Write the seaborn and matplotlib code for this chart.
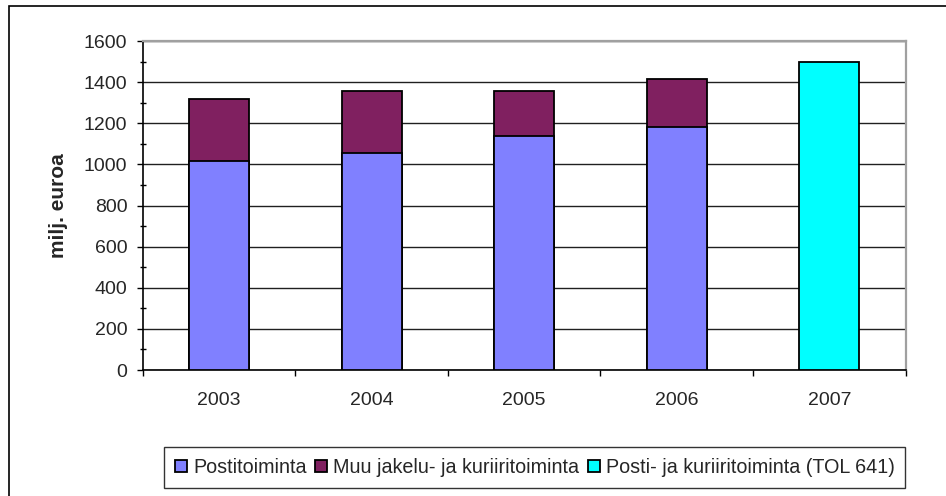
import seaborn as sns
import matplotlib.pyplot as plt
from matplotlib.patches import Patch, Rectangle
from matplotlib.ticker import MultipleLocator, FixedLocator

# Data (milj. euroa)
years = ['2003', '2004', '2005', '2006', '2007']
postitoiminta = [1018, 1053, 1136, 1182]
muu_jakelu = [301, 303, 220, 235]
tol_641 = [1500]

labels = ['Postitoiminta', 'Muu jakelu- ja kuriiritoiminta',
          'Posti- ja kuriiritoiminta (TOL 641)']
colors = ['#8080FF', '#802060', '#00FFFF']

totals = [p + m for p, m in zip(postitoiminta, muu_jakelu)]

sns.set_style('white')
plt.rcParams['font.family'] = ['Liberation Sans', 'DejaVu Sans']

fig = plt.figure(figsize=(9.46, 4.96), dpi=100)
ax = fig.add_axes([0.1508, 0.254, 0.8066, 0.6633])

bar_kw = dict(order=years, width=0.393, saturation=1, edgecolor='black',
              linewidth=1.3, ax=ax, zorder=3)
# stacked: draw totals in the top colour, then the lower part over it
sns.barplot(x=years[:4], y=totals, color=colors[1], **bar_kw)
sns.barplot(x=years[:4], y=postitoiminta, color=colors[0], **bar_kw)
sns.barplot(x=years[4:], y=tol_641, color=colors[2], **bar_kw)

ax.set_ylim(0, 1600)
ax.set_xlim(-0.5, 4.5)
ax.yaxis.set_major_locator(MultipleLocator(200))
ax.yaxis.set_minor_locator(MultipleLocator(100))
ax.grid(axis='y', which='major', color='#202020', linewidth=1.0, zorder=0)
ax.set_axisbelow(True)

ax.xaxis.set_minor_locator(FixedLocator([i + 0.5 for i in range(-1, 5)]))
ax.tick_params(axis='x', which='major', length=0, pad=16, labelsize=14)
ax.tick_params(axis='x', which='minor', length=4.5, width=1, color='black',
               direction='out', bottom=True)
ax.tick_params(axis='y', which='major', length=4, width=1, color='black',
               direction='out', left=True, pad=7, labelsize=14)
ax.tick_params(axis='y', which='minor', length=4.5, width=1, color='black',
               direction='inout', left=True)

for side in ['left', 'bottom']:
    ax.spines[side].set_color('black')
    ax.spines[side].set_linewidth(1.2)
for side in ['top', 'right']:
    ax.spines[side].set_visible(True)
    ax.spines[side].set_color('#A0A0A0')
    ax.spines[side].set_linewidth(1.6)

ax.set_xlabel('')
ax.set_ylabel('milj. euroa', fontsize=15, fontweight='bold', labelpad=11)

handles = [Patch(facecolor=c, edgecolor='black', linewidth=1.3) for c in colors]
leg = fig.legend(handles, labels, loc='center', ncol=3,
                 bbox_to_anchor=(0.5655, 0.058), fontsize=14.2,
                 frameon=True, fancybox=False, edgecolor='black',
                 handlelength=0.6, handleheight=0.6, handletextpad=0.3,
                 columnspacing=0.45, borderpad=0.55, borderaxespad=0)
leg.get_frame().set_linewidth(1.0)

# outer chart frame (only the left and top edges fall inside the picture)
fig.patches.append(Rectangle((9 / 946, -0.1), 1.2, 1.094 - 3 / 496,
                             transform=fig.transFigure, fill=False,
                             edgecolor='black', linewidth=1.2))

fig.savefig('out.png', dpi=100)
